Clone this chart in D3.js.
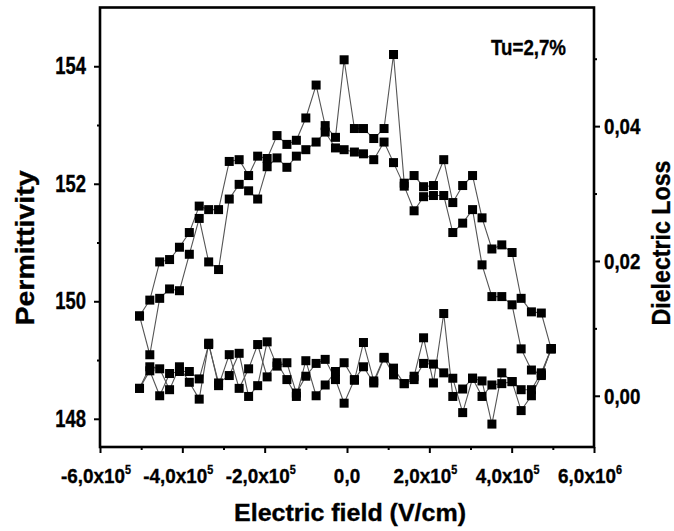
<!DOCTYPE html>
<html>
<head>
<meta charset="utf-8">
<script src="https://cdn.jsdelivr.net/npm/d3@7/dist/d3.min.js"></script>
<style>
  html, body { margin: 0; padding: 0; background: #fff; }
  svg { display: block; }
  text { font-family: "Liberation Sans", Arial, sans-serif; font-weight: bold; fill: #000; stroke: #000; stroke-width: 0.35px; }
</style>
</head>
<body>
<div id="chart"></div>
<script>
// Electric field (V/cm)
const field = [-5.04e5,-4.79e5,-4.55e5,-4.31e5,-4.07e5,-3.83e5,-3.59e5,-3.36e5,-3.12e5,-2.86e5,
  -2.62e5,-2.39e5,-2.17e5,-1.94e5,-1.70e5,-1.46e5,-1.23e5,-1.00e5,-0.75e5,-0.53e5,
  -0.28e5,-0.07e5,0.18e5,0.40e5,0.65e5,0.90e5,1.13e5,1.39e5,1.63e5,1.86e5,
  2.10e5,2.35e5,2.57e5,2.81e5,3.05e5,3.28e5,3.52e5,3.76e5,4.01e5,4.23e5,
  4.48e5,4.72e5,4.96e5];

// Permittivity, two sweep branches
const permA = [149.75,150.02,150.67,150.71,150.92,151.17,151.62,151.56,151.56,152.38,
  152.41,152.14,152.47,152.43,152.82,152.67,152.74,153.12,153.68,152.99,
  152.79,154.11,152.94,152.94,152.77,152.94,154.20,152.01,152.14,151.95,
  151.97,152.41,151.68,151.97,152.14,151.42,150.89,150.96,150.83,150.05,
  149.82,149.80,149.19];
const permB = [149.75,149.09,150.05,150.21,150.18,150.80,151.41,150.67,150.54,151.74,
  151.99,151.88,151.74,152.29,152.44,152.28,152.47,152.58,152.71,152.88,
  152.61,152.58,152.54,152.51,152.41,152.71,152.36,151.96,151.54,151.78,
  151.80,151.80,151.17,151.33,151.56,150.62,150.08,150.08,149.94,149.19,
  148.83,148.75,149.19];

// Dielectric loss, two sweep branches
const lossA = [0.0011,0.0043,0.0040,0.0009,0.0043,0.0020,-0.0005,0.0078,0.0015,0.0061,
  0.0011,0.0040,0.0076,0.0028,0.0049,0.0024,-0.0001,0.0052,0.0000,0.0016,
  0.0036,0.0049,0.0023,0.0079,0.0022,0.0057,0.0041,0.0018,0.0029,0.0086,
  0.0019,0.0122,-0.0001,0.0010,0.0026,0.0022,-0.0042,0.0034,0.0021,0.0009,
  0.0009,0.0034,0.0070];
const lossB = [0.0011,0.0037,0.0000,0.0033,0.0036,0.0036,0.0025,0.0076,0.0019,0.0030,
  0.0063,-0.0001,0.0015,0.0080,0.0044,0.0049,0.0004,0.0029,0.0048,0.0054,
  0.0024,-0.0011,0.0024,0.0043,0.0019,0.0056,0.0031,0.0018,0.0024,0.0048,
  0.0047,0.0034,0.0026,-0.0025,0.0026,-0.0001,0.0016,0.0018,0.0021,-0.0022,
  0.0000,0.0030,0.0070];

// Axis ticks and labels
const xTicks = [-6e5,-4e5,-2e5,0,2e5,4e5,6e5];
const xMinorTicks = [-5e5,-3e5,-1e5,1e5,3e5,5e5];
const xTickLabels = [["-6,0x10","5"],["-4,0x10","5"],["-2,0x10","5"],["0,0",""],["2,0x10","5"],["4,0x10","5"],["6,0x10","6"]];
const leftTicks = [148,150,152,154];
const leftMinorTicks = [149,151,153];
const rightTicks = [0,0.02,0.04];
const rightMinorTicks = [0.01,0.03,0.05];
const rightTickLabels = ["0,00","0,02","0,04"];

const W = 674, H = 531;
const L = 100, R = 594, T = 7.5, B = 447;

const svg = d3.select("#chart").append("svg").attr("width", W).attr("height", H);

const x = d3.scaleLinear().domain([-6e5, 6e5]).range([L, R]);
const yL = d3.scaleLinear().domain([147.52, 155.0]).range([B, T]);
const yR = d3.scaleLinear().domain([-0.0076, 0.0576]).range([B, T]);

function label(g, px, py, txt, size, anchor, sx, rot, len) {
  const t = g.append("text")
    .attr("transform", `translate(${px},${py})` + (rot ? ` rotate(${rot})` : "") + ` scale(${sx},1)`)
    .attr("text-anchor", anchor)
    .style("font-size", size + "px")
    .text(txt);
  if (len) t.attr("textLength", len / sx).attr("lengthAdjust", "spacingAndGlyphs");
  return t;
}

// Series
const series = [
  {vals: permA, y: yL}, {vals: permB, y: yL},
  {vals: lossA, y: yR}, {vals: lossB, y: yR}
];
const gData = svg.append("g");
series.forEach(s => {
  const pts = field.map((f, i) => [x(f), s.y(s.vals[i])]);
  gData.append("path")
    .attr("d", d3.line()(pts))
    .attr("fill", "none")
    .attr("stroke", "#555")
    .attr("stroke-width", 1.1);
});
series.forEach(s => {
  gData.selectAll(null).data(field).enter().append("rect")
    .attr("x", (f) => x(f) - 4.5)
    .attr("y", (f, i) => s.y(s.vals[i]) - 4.5)
    .attr("width", 9).attr("height", 9)
    .attr("fill", "#000");
});

// Axes
const axisStyle = g => {
  g.select(".domain").remove();
  g.selectAll(".tick line").attr("stroke", "#000").attr("stroke-width", 2);
  g.selectAll(".tick text").remove();
};
svg.append("g").attr("transform", `translate(0,${B})`)
  .call(d3.axisBottom(x).tickValues(xTicks).tickSize(6)).call(axisStyle);
svg.append("g").attr("transform", `translate(0,${B})`)
  .call(d3.axisBottom(x).tickValues(xMinorTicks).tickSize(3)).call(axisStyle);
svg.append("g").attr("transform", `translate(${L},0)`)
  .call(d3.axisLeft(yL).tickValues(leftTicks).tickSize(6)).call(axisStyle);
svg.append("g").attr("transform", `translate(${L},0)`)
  .call(d3.axisLeft(yL).tickValues(leftMinorTicks).tickSize(3)).call(axisStyle);
svg.append("g").attr("transform", `translate(${R},0)`)
  .call(d3.axisRight(yR).tickValues(rightTicks).tickSize(6)).call(axisStyle);
svg.append("g").attr("transform", `translate(${R},0)`)
  .call(d3.axisRight(yR).tickValues(rightMinorTicks).tickSize(3)).call(axisStyle);

// Frame
svg.append("rect").attr("x", L).attr("y", T).attr("width", R - L).attr("height", B - T)
  .attr("fill", "none").attr("stroke", "#000").attr("stroke-width", 2.6);

// Tick labels
const gLab = svg.append("g");
leftTicks.forEach(v => label(gLab, L - 14, yL(v) + 8, String(v), 23, "end", 0.8));
rightTicks.forEach((v, i) => label(gLab, R + 10, yR(v) + 8, rightTickLabels[i], 22, "start", 0.85));
xTicks.forEach((v, i) => {
  const [base, sup] = xTickLabels[i];
  const t = gLab.append("text")
    .attr("transform", `translate(${x(v) + (sup ? -4 : 0)},${483}) scale(0.9,1)`)
    .attr("text-anchor", "middle")
    .style("font-size", "21px");
  t.append("tspan").text(base);
  if (sup) t.append("tspan").attr("dy", -9).style("font-size", "12px").text(sup);
});

// Titles
label(gLab, 350, 521, "Electric field (V/cm)", 24, "middle", 1, 0, 232);
label(gLab, 34, 248, "Permittivity", 25, "middle", 1, -90, 155);
label(gLab, 670, 243, "Dielectric Loss", 25, "middle", 1, -90, 165);
label(gLab, 528.5, 55, "Tu=2,7%", 22, "middle", 0.85);
</script>
</body>
</html>
